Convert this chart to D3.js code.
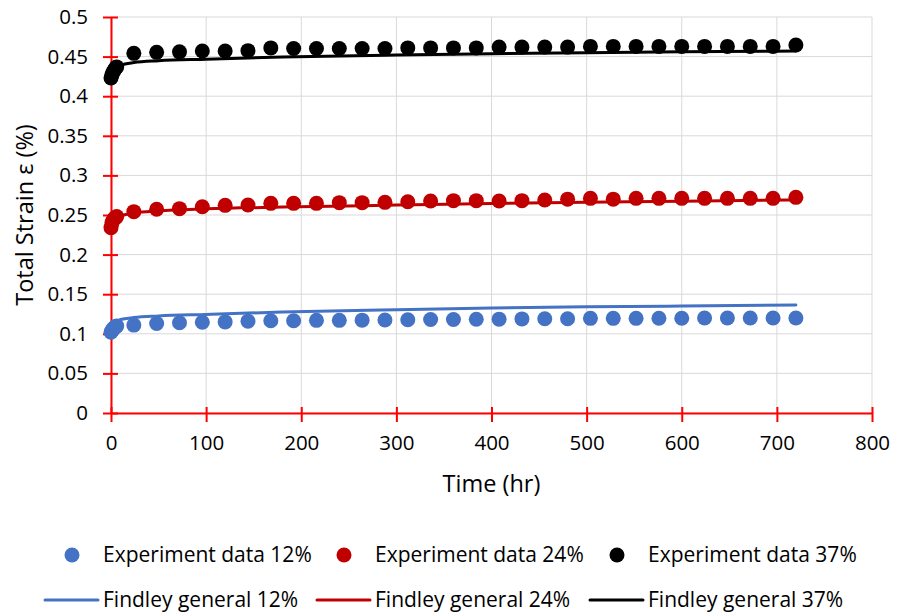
<!DOCTYPE html>
<html>
<head>
<meta charset="utf-8">
<script src="https://cdn.jsdelivr.net/npm/d3@7"></script>
<style>
  body { margin: 0; background: #fff; }
  svg { font-family: "Open Sans", "Noto Sans", sans-serif; }
</style>
</head>
<body>
<svg id="chart"></svg>
<script>
// experiment readings (hr)
const expTimes = [0, 1, 2, 3, 4, 5, 6,
  24, 48, 72, 96, 120, 144, 168, 192, 216, 240,
  264, 288, 312, 336, 360, 384, 408, 432, 456, 480,
  504, 528, 552, 576, 600, 624, 648, 672, 696, 720];

const exp12 = [0.102, 0.104, 0.106, 0.107, 0.108, 0.109, 0.110,
  0.111, 0.113, 0.114, 0.1145, 0.115, 0.116, 0.1165, 0.1165, 0.117, 0.117,
  0.1172, 0.1175, 0.1178, 0.118, 0.118, 0.1183, 0.1185, 0.1188, 0.119, 0.119,
  0.1195, 0.1195, 0.1195, 0.1197, 0.1197, 0.12, 0.12, 0.12, 0.12, 0.12];

const exp24 = [0.234, 0.240, 0.243, 0.245, 0.246, 0.247, 0.248,
  0.2542, 0.2572, 0.258, 0.2605, 0.2622, 0.2626, 0.2647, 0.2647, 0.2647, 0.2656,
  0.2656, 0.266, 0.2668, 0.2677, 0.2681, 0.2681, 0.2677, 0.2681, 0.2689, 0.270,
  0.271, 0.270, 0.271, 0.271, 0.271, 0.271, 0.271, 0.271, 0.271, 0.2723];

const exp37 = [0.423, 0.427, 0.430, 0.432, 0.434, 0.436, 0.437,
  0.4541, 0.4554, 0.456, 0.457, 0.457, 0.4575, 0.461, 0.4603, 0.4603, 0.4603,
  0.4603, 0.4603, 0.461, 0.461, 0.461, 0.461, 0.462, 0.462, 0.462, 0.462,
  0.4629, 0.4629, 0.4629, 0.4629, 0.4629, 0.4629, 0.4629, 0.4629, 0.4629, 0.4646];

// Findley fit curves
const fitTimes = [0, 1, 2, 5, 10, 24, 50, 100, 180, 300, 400, 500, 600, 720];
const fit12 = [0.104, 0.110, 0.1125, 0.1155, 0.118, 0.1205, 0.1225, 0.1245, 0.1275, 0.1305, 0.1325, 0.134, 0.135, 0.1365];
const fit24 = [0.236, 0.242, 0.244, 0.247, 0.249, 0.2525, 0.2553, 0.2578, 0.260, 0.2625, 0.2645, 0.266, 0.2675, 0.269];
const fit37 = [0.425, 0.430, 0.432, 0.436, 0.439, 0.4425, 0.4448, 0.4468, 0.4495, 0.452, 0.4535, 0.455, 0.456, 0.457];

const xTicks = [0, 100, 200, 300, 400, 500, 600, 700, 800];
const yTicks = [0, 0.05, 0.1, 0.15, 0.2, 0.25, 0.3, 0.35, 0.4, 0.45, 0.5];
const yTickLabels = ["0", "0.05", "0.1", "0.15", "0.2", "0.25", "0.3", "0.35", "0.4", "0.45", "0.5"];

const expNames = ["Experiment data 12%", "Experiment data 24%", "Experiment data 37%"];
const fitNames = ["Findley general 12%", "Findley general 24%", "Findley general 37%"];
const colors = ["#4472C4", "#C00000", "#000000"];

const size = { width: 899, height: 615 };
const margin = { left: 111, right: 27, top: 17, bottom: 202 };
const TICK_FONT = 20.5;
const TITLE_FONT = 23.5;
const LEGEND_FONT = 21;

const svg = d3.select("#chart").attr("width", size.width).attr("height", size.height);

const x = d3.scaleLinear().domain([0, 800]).range([margin.left, size.width - margin.right]);
const y = d3.scaleLinear().domain([0, 0.5]).range([size.height - margin.bottom, margin.top]);

// gridlines
const grid = svg.append("g").attr("stroke", "#d9d9d9").attr("stroke-width", 1);
yTicks.forEach((v) => {
  grid.append("line")
    .attr("x1", x(0)).attr("x2", x(800))
    .attr("y1", y(v)).attr("y2", y(v));
});
xTicks.forEach((v) => {
  grid.append("line")
    .attr("x1", x(v)).attr("x2", x(v))
    .attr("y1", y(0)).attr("y2", y(0.5));
});

// axes
const xAxis = svg.append("g")
  .attr("transform", `translate(0, ${y(0)})`)
  .call(d3.axisBottom(x).tickValues(xTicks).tickSize(9).tickPadding(13).tickSizeOuter(0));
xAxis.selectAll(".tick line").attr("y1", -6);

const yAxis = svg.append("g")
  .attr("transform", `translate(${x(0)}, 0)`)
  .call(d3.axisLeft(y).tickValues(yTicks).tickSize(8).tickPadding(15).tickSizeOuter(0)
    .tickFormat((d, i) => yTickLabels[i]));
yAxis.selectAll(".tick line").attr("x1", 7);

[xAxis, yAxis].forEach((g) => {
  g.select(".domain").attr("stroke", "#ff0000").attr("stroke-width", 2);
  g.selectAll(".tick line").attr("stroke", "#ff0000").attr("stroke-width", 2);
  g.selectAll(".tick text")
    .attr("fill", "#000")
    .style("font-size", TICK_FONT + "px")
    .style("font-family", "'Open Sans', 'Noto Sans', sans-serif");
});

// axis titles
svg.append("text")
  .text("Time (hr)")
  .attr("x", (x(0) + x(800)) / 2)
  .attr("y", 492)
  .attr("text-anchor", "middle")
  .attr("font-size", TITLE_FONT);

svg.append("text")
  .text("Total Strain ε (%)")
  .attr("transform", `translate(33, ${(y(0) + y(0.5)) / 2}) rotate(-90)`)
  .attr("text-anchor", "middle")
  .attr("font-size", TITLE_FONT);

// experiment points
[exp12, exp24, exp37].forEach((vals, s) => {
  svg.append("g")
    .attr("fill", colors[s])
    .selectAll("circle")
    .data(vals)
    .enter()
    .append("circle")
    .attr("cx", (d, i) => x(expTimes[i]))
    .attr("cy", (d) => y(d))
    .attr("r", 7.5);
});

// Findley curves
const line = d3.line()
  .x((d, i) => x(fitTimes[i]))
  .y((d) => y(d))
  .curve(d3.curveMonotoneX);

[fit12, fit24, fit37].forEach((vals, s) => {
  svg.append("path")
    .datum(vals)
    .attr("fill", "none")
    .attr("stroke", colors[s])
    .attr("stroke-width", 3)
    .attr("stroke-linecap", "round")
    .attr("d", line);
});

// legend
const legendCols = [45, 317, 590];
const legend = svg.append("g").attr("font-size", LEGEND_FONT);
colors.forEach((c, i) => {
  const lx = legendCols[i];
  legend.append("circle")
    .attr("cx", lx + 27).attr("cy", 555).attr("r", 7.5).attr("fill", c);
  legend.append("text")
    .text(expNames[i])
    .attr("x", lx + 58).attr("y", 562);
  legend.append("line")
    .attr("x1", lx).attr("x2", lx + 53)
    .attr("y1", 600).attr("y2", 600)
    .attr("stroke", c).attr("stroke-width", 3).attr("stroke-linecap", "round");
  legend.append("text")
    .text(fitNames[i])
    .attr("x", lx + 58).attr("y", 607);
});
</script>
</body>
</html>
